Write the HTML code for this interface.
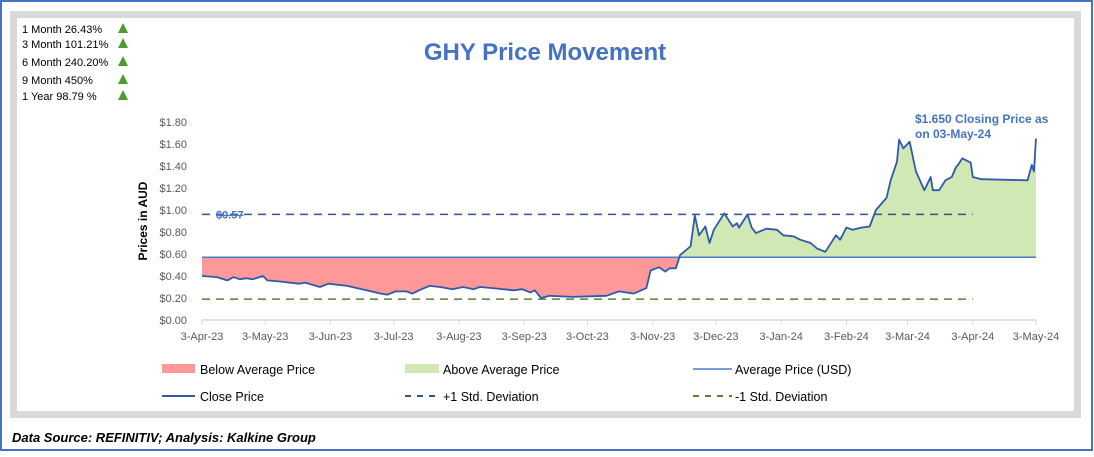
<!DOCTYPE html>
<html><head><meta charset="utf-8"><style>
body{margin:0;background:#fff;}
svg text{font-family:"Liberation Sans",sans-serif;}
</style></head><body>
<svg id="c" width="1094" height="452" xmlns="http://www.w3.org/2000/svg">
<rect x="1" y="1" width="1091" height="449" fill="#fff" stroke="#4472c4" stroke-width="2"/>
<rect x="13.5" y="14.5" width="1064" height="400" fill="#fff" stroke="#d9d9d9" stroke-width="7"/>
<g id="stats"></g>
<text x="545" y="60" text-anchor="middle" font-size="24" font-weight="bold" fill="#4472c4">GHY Price Movement</text>
<text transform="translate(147,221) rotate(-90)" text-anchor="middle" font-size="12" font-weight="bold" fill="#000">Prices in AUD</text>
<g id="plot"></g>
<text x="975" y="123" font-size="12" font-weight="bold" fill="#4472c4"><tspan x="915">$1.650 Closing Price as</tspan><tspan x="915" dy="15">on 03-May-24</tspan></text>
<g id="legend"></g>
<text x="12" y="442" font-size="13" font-weight="bold" font-style="italic" fill="#000">Data Source: REFINITIV; Analysis: Kalkine Group</text>
</svg>
<script>
const NS="http://www.w3.org/2000/svg";
const statLabels=["1 Month 26.43%","3 Month 101.21%","6 Month 240.20%","9 Month 450%","1 Year 98.79 %"];
const xTickLabels=["3-Apr-23","3-May-23","3-Jun-23","3-Jul-23","3-Aug-23","3-Sep-23","3-Oct-23","3-Nov-23","3-Dec-23","3-Jan-24","3-Feb-24","3-Mar-24","3-Apr-24","3-May-24"];
const xTickDays=[0,30,61,91,122,153,183,214,244,275,306,335,366,396];
const yTicks=[0,0.2,0.4,0.6,0.8,1.0,1.2,1.4,1.6,1.8];
const days=[0,7,12,15,18,21,24,29,31,37,46,49,56,60,69,78,85,88,92,97,100,103,108,113,119,124,129,132,138,148,152,156,158,161,165,176,192,198,205,211,213,217,220,222,225,227,232,234,236,239,241,243,248,252,254,255,259,261,263,268,273,276,281,284,289,292,296,301,303,306,309,313,317,320,325,327,330,331,333,336,339,343,346,347,350,353,356,358,359,361,365,366,370,392,394,395,396];
const prices=[0.40,0.39,0.36,0.39,0.37,0.38,0.37,0.40,0.36,0.35,0.33,0.34,0.30,0.33,0.31,0.27,0.24,0.23,0.26,0.26,0.24,0.27,0.31,0.30,0.28,0.30,0.28,0.30,0.29,0.27,0.28,0.25,0.27,0.20,0.22,0.21,0.22,0.26,0.24,0.29,0.45,0.48,0.44,0.47,0.47,0.59,0.67,0.95,0.77,0.85,0.70,0.82,0.97,0.85,0.88,0.84,0.96,0.84,0.79,0.83,0.82,0.77,0.76,0.73,0.70,0.65,0.62,0.77,0.73,0.84,0.82,0.84,0.85,1.00,1.11,1.27,1.44,1.64,1.56,1.62,1.35,1.18,1.30,1.18,1.18,1.27,1.30,1.39,1.41,1.47,1.43,1.30,1.28,1.27,1.41,1.35,1.65];
const avgPrice=[0.57];
const plusSD=[0.96];
const minusSD=[0.19];
const sdLabel="$0.57";
const legendLabels=["Below Average Price","Above Average Price","Average Price (USD)","Close Price","+1 Std. Deviation","-1 Std. Deviation"];

const X0=202,X1=1036,Y0=320,Y1=122,DMAX=396,YMAX=1.8;
const xs=d=>X0+(X1-X0)*d/DMAX;
const ys=v=>Y0-(Y0-Y1)*v/YMAX;
function mk(tag,attrs,parent){const e=document.createElementNS(NS,tag);for(const k in attrs)e.setAttribute(k,attrs[k]);parent.appendChild(e);return e;}

const stats=document.getElementById('stats');
statLabels.forEach((s,i)=>{
  const y=[33,48,66,84,100][i];
  const t=mk('text',{x:22,y:y,'font-size':'11',fill:'#000'},stats);t.textContent=s;
  
  
  const p=mk('polygon',{points:`118,${y} 128,${y} 123,${y-10}`,fill:'#4e9a2f'},stats);
  
  
});

const plot=document.getElementById('plot');
mk('line',{x1:X0,x2:X1,y1:Y0,y2:Y0,stroke:'#d9d9d9','stroke-width':1.5},plot);
yTicks.forEach(v=>{
  const t=mk('text',{x:187,y:ys(v)+4,'text-anchor':'end','font-size':'11',fill:'#595959'},plot);
  t.textContent='$'+v.toFixed(2);
  
  
});
xTickDays.forEach((d,i)=>{
  mk('line',{x1:xs(d),x2:xs(d),y1:Y0,y2:Y0+5,stroke:'#d9d9d9'},plot);
  const t=mk('text',{x:xs(d),y:340,'text-anchor':'middle','font-size':'11',fill:'#595959'},plot);
  t.textContent=xTickLabels[i];
  
  
});
const mY=ys(avgPrice[0]);
let pts=days.map((d,i)=>xs(d)+','+ys(prices[i])).join(' ');
const area=pts+' '+xs(days[days.length-1])+','+mY+' '+xs(days[0])+','+mY;
const defs=mk('defs',{},plot);
const c1=mk('clipPath',{id:'above'},defs);mk('rect',{x:0,y:0,width:1094,height:mY},c1);
const c2=mk('clipPath',{id:'below'},defs);mk('rect',{x:0,y:mY,width:1094,height:200},c2);
const ga=mk('polygon',{points:area,fill:'#cfe8b4','clip-path':'url(#above)'},plot);


const gb=mk('polygon',{points:area,fill:'#ff9999','clip-path':'url(#below)'},plot);


const am=mk('line',{x1:X0,x2:X1,y1:mY,y2:mY,stroke:'#4a7fc8','stroke-width':1.5},plot);


const pl=mk('line',{x1:X0,x2:xs(366),y1:ys(plusSD[0]),y2:ys(plusSD[0]),stroke:'#2f5597','stroke-width':1.5,'stroke-dasharray':'8,6'},plot);


const ml=mk('line',{x1:X0,x2:xs(366),y1:ys(minusSD[0]),y2:ys(minusSD[0]),stroke:'#548235','stroke-width':1.5,'stroke-dasharray':'8,6'},plot);


const st=mk('text',{x:216,y:ys(plusSD[0])+4,'font-size':'11','font-weight':'bold',fill:'#4472c4','text-decoration':'line-through'},plot);
st.textContent=sdLabel;


const cl=mk('polyline',{points:pts,fill:'none',stroke:'#2f5aa8','stroke-width':1.8,'stroke-linejoin':'round'},plot);



const lg=document.getElementById('legend');
const lx=[162,405,693],ly=[369,396];
legendLabels.forEach((s,i)=>{
  const x=lx[i%3],y=ly[Math.floor(i/3)];
  let m;
  if(i===0)m=mk('rect',{x:x,y:y-5,width:33,height:9,fill:'#ff9999'},lg);
  else if(i===1)m=mk('rect',{x:x,y:y-5,width:34,height:9,fill:'#cfe8b4'},lg);
  else if(i===2)m=mk('line',{x1:x,x2:x+39,y1:y,y2:y,stroke:'#4a7fc8','stroke-width':1.5},lg);
  else if(i===3)m=mk('line',{x1:x,x2:x+33,y1:y,y2:y,stroke:'#2f5aa8','stroke-width':2},lg);
  else if(i===4)m=mk('line',{x1:x,x2:x+33,y1:y,y2:y,stroke:'#2f5597','stroke-width':2,'stroke-dasharray':'6,6'},lg);
  else m=mk('line',{x1:x,x2:x+39,y1:y,y2:y,stroke:'#548235','stroke-width':2,'stroke-dasharray':'6,6'},lg);
  
  
  const off=[38,38,42][i%3];
  const t=mk('text',{x:x+off,y:y+5,'font-size':'12.5',fill:'#000'},lg);
  t.textContent=s;
  
  
});
</script>
</body></html>
